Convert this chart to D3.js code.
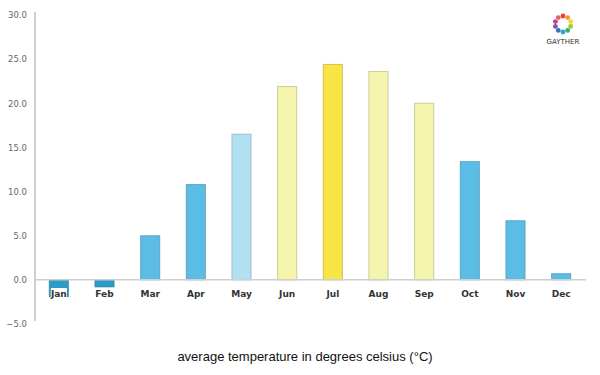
<!DOCTYPE html>
<html>
<head>
<meta charset="utf-8">
<script src="https://cdn.jsdelivr.net/npm/d3@7"></script>
<style>
body { margin: 0; background: #fff; }
</style>
</head>
<body>
<div id="chart-area"></div>
<script>
var months = ["Jan", "Feb", "Mar", "Apr", "May", "Jun", "Jul", "Aug", "Sep", "Oct", "Nov", "Dec"];
var temps = [-1.9, -0.8, 5.0, 10.8, 16.5, 21.9, 24.4, 23.6, 20.0, 13.4, 6.7, 0.7];
var barColors = ["#2a9dc6", "#2a9dc6", "#5bbde6", "#5bbde6", "#b2dff1", "#f4f4ac", "#f9e445", "#f4f4ac", "#f4f4ac", "#5bbde6", "#5bbde6", "#5bbde6"];
var yTicks = [-5, 0, 5, 10, 15, 20, 25, 30];

var width = 600, height = 375;
var labelFont = "DejaVu Sans, sans-serif";

var svg = d3.select("#chart-area")
    .append("svg")
        .attr("width", width)
        .attr("height", height);

var x = d3.scaleBand()
    .domain(months)
    .range([36, 584])
    .paddingInner(0.58)
    .paddingOuter(0.29);

var y = d3.scaleLinear()
    .domain([-5, 30])
    .range([324, 15]);

// y axis
var leftAxis = d3.axisLeft(y)
    .tickValues(yTicks)
    .tickSize(0)
    .tickPadding(8)
    .tickFormat(d3.format(".1f"));

var ya = svg.append("g")
    .attr("transform", "translate(35,0)")
    .call(leftAxis);
ya.select(".domain").attr("stroke", "#d0d0d0").attr("stroke-width", 2)
    .attr("d", "M0," + (y(30) - 3) + "V" + (y(-5) - 3));
ya.selectAll("text")
    .attr("fill", "#666")
    .style("font-family", labelFont)
    .style("font-size", "8.5px");

// bars
svg.selectAll("rect.bar")
    .data(temps)
    .enter()
    .append("rect")
        .attr("class", "bar")
        .attr("x", (d, i) => x(months[i]))
        .attr("width", x.bandwidth())
        .attr("y", (d) => y(Math.max(0, d)))
        .attr("height", (d) => Math.abs(y(d) - y(0)))
        .attr("fill", (d, i) => barColors[i])
        .attr("stroke", (d, i) => d3.color(barColors[i]).darker(0.9))
        .attr("stroke-opacity", 0.6)
        .attr("stroke-width", 1);

// zero line
svg.append("line")
    .attr("x1", 36).attr("x2", 586)
    .attr("y1", y(0)).attr("y2", y(0))
    .attr("stroke", "#cfcfcf")
    .attr("stroke-width", 1.5);

// month labels with white background
var lab = svg.selectAll("g.lab")
    .data(months)
    .enter()
    .append("g")
        .attr("class", "lab")
        .attr("transform", (d) => "translate(" + (x(d) + x.bandwidth() / 2) + ",297)");
lab.append("rect")
    .attr("x", -8).attr("y", -9)
    .attr("width", 16).attr("height", 14)
    .attr("fill", "#fff");
lab.append("text")
    .attr("text-anchor", "middle")
    .attr("fill", "#333")
    .style("font-family", labelFont)
    .style("font-size", "9px")
    .style("font-weight", "600")
    .text((d) => d);

// axis title
svg.append("text")
    .attr("x", 305)
    .attr("y", 361)
    .attr("text-anchor", "middle")
    .attr("fill", "#111")
    .style("font-family", "Liberation Sans, Arial, sans-serif")
    .style("font-size", "13px")
    .text("average temperature in degrees celsius (°C)");

// logo
var logoColors = ["#e8413c", "#f39a2b", "#f5d327", "#9bc83c", "#3aae5a", "#27a7c9", "#2f76c1", "#8a4fb0", "#d6378f", "#ec5b6a"];
var logo = svg.append("g").attr("transform", "translate(563,24)");
logo.selectAll("circle")
    .data(logoColors)
    .enter()
    .append("circle")
        .attr("cx", (d, i) => 8 * Math.cos(i / logoColors.length * 2 * Math.PI - Math.PI / 2))
        .attr("cy", (d, i) => 8 * Math.sin(i / logoColors.length * 2 * Math.PI - Math.PI / 2))
        .attr("r", 2.4)
        .attr("fill", (d) => d);
logo.append("text")
    .attr("y", 20)
    .attr("text-anchor", "middle")
    .attr("fill", "#333")
    .style("font-family", labelFont)
    .style("font-size", "7px")
    .text("GAYTHER");
</script>
</body>
</html>
